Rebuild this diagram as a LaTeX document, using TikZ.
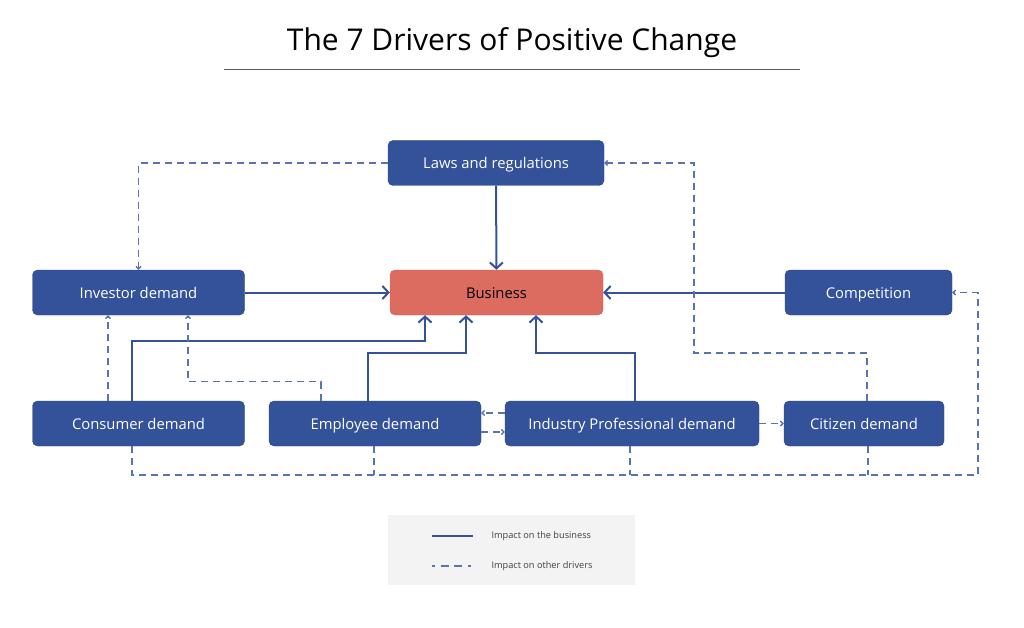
\documentclass[tikz,border=0pt]{standalone}
\usepackage{fontspec}
\setmainfont{Open Sans}
\usetikzlibrary{arrows.meta,positioning}
\definecolor{driverblue}{HTML}{34529A}
\definecolor{bizred}{HTML}{DC6C60}
\definecolor{dashblue}{HTML}{5A72AE}
\definecolor{legendgray}{HTML}{F3F3F3}

\begin{document}
\begin{tikzpicture}[x=1pt, y=-1pt,
    driver/.style={draw=driverblue!85!black, fill=driverblue, rounded corners=5pt, text=white,
        font=\fontsize{14.8}{17}\selectfont, inner sep=0pt, minimum height=45pt,
        text height=13pt, text depth=1pt},
    business/.style={driver, draw=bizred!90!black, fill=bizred, text=black},
    impact/.style={draw=driverblue, line width=2pt, -{Straight Barb[length=6pt, width=13pt]}},
    other/.style={draw=dashblue, line width=1.3pt, dash pattern=on 7pt off 5pt,
        -{Straight Barb[length=2.5pt, width=5pt]}},
    legendtext/.style={anchor=west, font=\fontsize{9.2}{11}\selectfont, text=black!75}]
        \useasboundingbox (0,0) rectangle (1024,628);

        % Title
        \node[font=\fontsize{30}{36}\selectfont] (title) at (512,43) {The 7 Drivers of Positive Change};
        \draw[black!65, line width=0.8pt] (224,69) -- (800,69);

        % Draw nodes
        \node[driver, minimum width=216pt] (laws) at (496,163) {Laws and regulations};
        \node[business, minimum width=213pt] (business) at (496.5,292.5) {Business};
        \node[driver, minimum width=212pt] (investor) at (138.5,292.5) {Investor demand};
        \node[driver, minimum width=167pt] (competition) at (868.5,292.5) {Competition};
        \node[driver, minimum width=212pt] (consumer) at (138.5,423.5) {Consumer demand};
        \node[driver, minimum width=212pt] (employee) at (375,423.5) {Employee demand};
        \node[driver, minimum width=254pt] (industry) at (632,423.5) {Industry Professional demand};
        \node[driver, minimum width=160pt] (citizen) at (864,423.5) {Citizen demand};

        % Impact on the business
        \draw[impact] (investor) -- (business);
        \draw[impact] (laws) -- (business);
        \draw[impact] (competition) -- (business);
        \draw[impact] ([xshift=-6.5pt]consumer.north) -- ++(0,-60) -| ([xshift=-71.5pt]business.south);
        \draw[impact] ([xshift=-7pt]employee.north) -- ++(0,-48) -| ([xshift=-30.5pt]business.south);
        \draw[impact] ([xshift=3pt]industry.north) -- ++(0,-48) -| ([xshift=39.5pt]business.south);

        % Impact on other drivers
        \coordinate (citbend) at (694,353);
        \coordinate (busend) at (978,475);
        \draw[other] (laws.west) -| (investor.north);
        \draw[other] ([xshift=3pt]citizen.north) |- (citbend) |- (laws.east);
        \draw[other] ([xshift=-30.5pt]consumer.north) -- ([xshift=-30.5pt]investor.south);
        \draw[other] ([xshift=-54pt]employee.north) -- ++(0,-19) -| ([xshift=49.5pt]investor.south);
        \draw[other] ([yshift=10.5pt]industry.west) -- ([yshift=10.5pt]employee.east);
        \draw[other] ([yshift=-8.5pt]employee.east) -- ([yshift=-8.5pt]industry.west);
        \draw[other] (industry) -- (citizen);
        \draw[other] ([xshift=-6.5pt]consumer.south) |- (busend) |- (competition.east);
        \draw[other, -] ([xshift=-1pt]employee.south) -- ++(0,29);
        \draw[other, -] ([xshift=-2pt]industry.south) -- ++(0,29);
        \draw[other, -] ([xshift=4pt]citizen.south) -- ++(0,29);

        % Legend
        \node[fill=legendgray, minimum width=247pt, minimum height=70pt, inner sep=0pt] (legend) at (511.5,550) {};
        \coordinate (solidA) at (432,536);
        \coordinate (solidB) at (473,536);
        \coordinate (dashA) at (432,566);
        \coordinate (dashB) at (473,566);
        \draw[draw=driverblue, line width=1.5pt] (solidA) -- (solidB);
        \draw[draw=dashblue, line width=1.5pt, dash pattern=on 3pt off 6pt on 8pt off 5pt on 8pt off 6pt on 3pt] (dashA) -- (dashB);
        \node[legendtext] (solidtext) at (488,536) {Impact on the business};
        \node[legendtext] (dashtext) at (488,566) {Impact on other drivers};
    \end{tikzpicture}
\end{document}
